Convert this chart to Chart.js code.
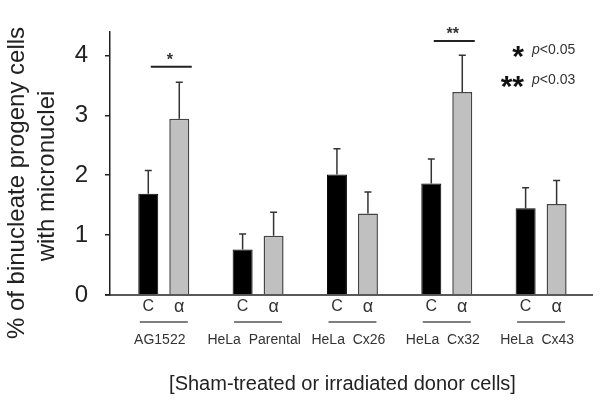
<!DOCTYPE html>
<html><head><meta charset="utf-8">
<script src="https://cdn.jsdelivr.net/npm/chart.js@4/dist/chart.umd.min.js"></script>
<style>html,body{margin:0;padding:0;background:#fff}canvas{display:block}</style>
</head><body>
<canvas id="c" width="600" height="403"></canvas>
<script>
// ---- data ----
const groups = ["AG1522", "HeLa  Parental", "HeLa  Cx26", "HeLa  Cx32", "HeLa  Cx43"];
const barLabels = ["C", "\u03B1"];
const controlValues = [1.69, 0.76, 2.01, 1.86, 1.45];
const controlErrors = [0.39, 0.26, 0.43, 0.41, 0.34];
const alphaValues = [2.94, 0.99, 1.36, 3.39, 1.52];
const alphaErrors = [0.61, 0.39, 0.36, 0.61, 0.39];
const yTicks = [0, 1, 2, 3, 4];
const sigGroups = [0, 3];
const sigLevels = [3.81, 4.24];
const sigMarks = ["*", "**"];
const legendMarks = ["*", "**"];
const legendTexts = ["<0.05", "<0.03"];
const yTitle = ["% of binucleate progeny cells", "with micronuclei"];
const xTitle = "[Sham-treated or irradiated donor cells]";

const FONT = '"Liberation Sans", Arial, Helvetica, sans-serif';

const overlay = {
  id: 'overlay',
  afterDatasetsDraw(chart) {
    const { ctx, chartArea: ca, scales: { x, y } } = chart;
    const y0 = y.getPixelForValue(0);
    ctx.save();
    // x axis line
    ctx.strokeStyle = '#222'; ctx.lineWidth = 1.5;
    ctx.beginPath(); ctx.moveTo(ca.left - 5, y0); ctx.lineTo(ca.right, y0); ctx.stroke();
    // error bars + bar labels
    const errs = [controlErrors, alphaErrors];
    [0, 1].forEach(d => {
      const meta = chart.getDatasetMeta(d);
      const vals = chart.data.datasets[d].data;
      meta.data.forEach((el, i) => {
        const top = y.getPixelForValue(vals[i].y + errs[d][i]);
        ctx.strokeStyle = '#333'; ctx.lineWidth = 1.5;
        ctx.beginPath();
        ctx.moveTo(el.x, el.y); ctx.lineTo(el.x, top);
        ctx.moveTo(el.x - 3.5, top); ctx.lineTo(el.x + 3.5, top);
        ctx.stroke();
        ctx.fillStyle = '#333';
        ctx.font = d === 0 ? `16px ${FONT}` : `18px ${FONT}`;
        ctx.textAlign = 'center'; ctx.textBaseline = 'middle';
        ctx.fillText(barLabels[d], el.x, y0 + 12);
      });
    });
    // group underline + names
    groups.forEach((g, i) => {
      const cx = x.getPixelForValue(i + 1);
      ctx.strokeStyle = '#555'; ctx.lineWidth = 1.5;
      ctx.beginPath(); ctx.moveTo(cx - 24, y0 + 27); ctx.lineTo(cx + 24, y0 + 27); ctx.stroke();
      ctx.fillStyle = '#333'; ctx.font = `14px ${FONT}`;
      ctx.textAlign = 'center'; ctx.textBaseline = 'middle';
      ctx.fillText(g, cx - 4, y0 + 45);
    });
    // significance lines
    sigGroups.forEach((gi, k) => {
      const cx = x.getPixelForValue(gi + 1);
      const yy = y.getPixelForValue(sigLevels[k]);
      ctx.strokeStyle = '#222'; ctx.lineWidth = 2;
      ctx.beginPath(); ctx.moveTo(cx - 13, yy); ctx.lineTo(cx + 28, yy); ctx.stroke();
      ctx.fillStyle = '#333'; ctx.font = `bold 16px ${FONT}`;
      ctx.textAlign = 'center'; ctx.textBaseline = 'alphabetic';
      ctx.fillText(sigMarks[k], cx + 6, yy - 2);
    });
    // legend
    legendMarks.forEach((m, k) => {
      const base = 53.5 + k * 30.5;
      ctx.fillStyle = '#111'; ctx.font = `bold 30px ${FONT}`;
      ctx.textAlign = 'right'; ctx.textBaseline = 'alphabetic';
      ctx.fillText(m, ca.right - 69, base + 12);
      ctx.fillStyle = '#333';
      ctx.textAlign = 'left';
      ctx.font = `italic 14px ${FONT}`;
      const px = ca.right - 61;
      ctx.fillText('p', px, base);
      const w = ctx.measureText('p').width;
      ctx.font = `14px ${FONT}`;
      ctx.fillText(legendTexts[k], px + w, base);
    });
    // y title
    ctx.fillStyle = '#222'; ctx.font = `24px ${FONT}`;
    ctx.textAlign = 'center'; ctx.textBaseline = 'middle';
    const yc = [183, 176];
    yTitle.forEach((t, k) => {
      ctx.save();
      ctx.translate(17 + k * 30, yc[k]);
      ctx.rotate(-Math.PI / 2);
      ctx.fillText(t, 0, 0);
      ctx.restore();
    });
    // x title
    ctx.font = `20px ${FONT}`;
    ctx.fillText(xTitle, (ca.left + ca.right) / 2 - 9, 384);
    ctx.restore();
  }
};

new Chart(document.getElementById('c'), {
  type: 'bar',
  data: {
    datasets: [
      { label: 'C', data: controlValues.map((v, i) => ({ x: i + 1, y: v })),
        backgroundColor: '#000', borderColor: '#000', borderWidth: 1 },
      { label: '\u03B1', data: alphaValues.map((v, i) => ({ x: i + 1, y: v })),
        backgroundColor: '#c0c0c0', borderColor: '#444', borderWidth: 1.5 }
    ]
  },
  options: {
    responsive: false,
    animation: false,
    events: [],
    categoryPercentage: 0.657,
    barPercentage: 0.645,
    layout: { padding: { left: 0, top: 10, right: 7, bottom: 108 } },
    plugins: { legend: { display: false }, tooltip: { enabled: false } },
    scales: {
      x: {
        type: 'linear', min: 0.43, max: 5.55, display: false, offset: false,
        grid: { offset: false },
        ticks: { stepSize: 1, includeBounds: false }
      },
      y: {
        min: 0, max: 4.4,
        afterBuildTicks: s => { s.ticks = yTicks.map(v => ({ value: v })); },
        afterFit: s => { s.width = 110; },
        ticks: { color: '#222', padding: 17, font: { family: FONT, size: 24 } },
        grid: { drawOnChartArea: false, drawTicks: true, tickLength: 5, color: '#222', lineWidth: 1.5 },
        border: { display: true, color: '#222', width: 1.5 }
      }
    }
  },
  plugins: [overlay]
});
</script>
</body></html>
